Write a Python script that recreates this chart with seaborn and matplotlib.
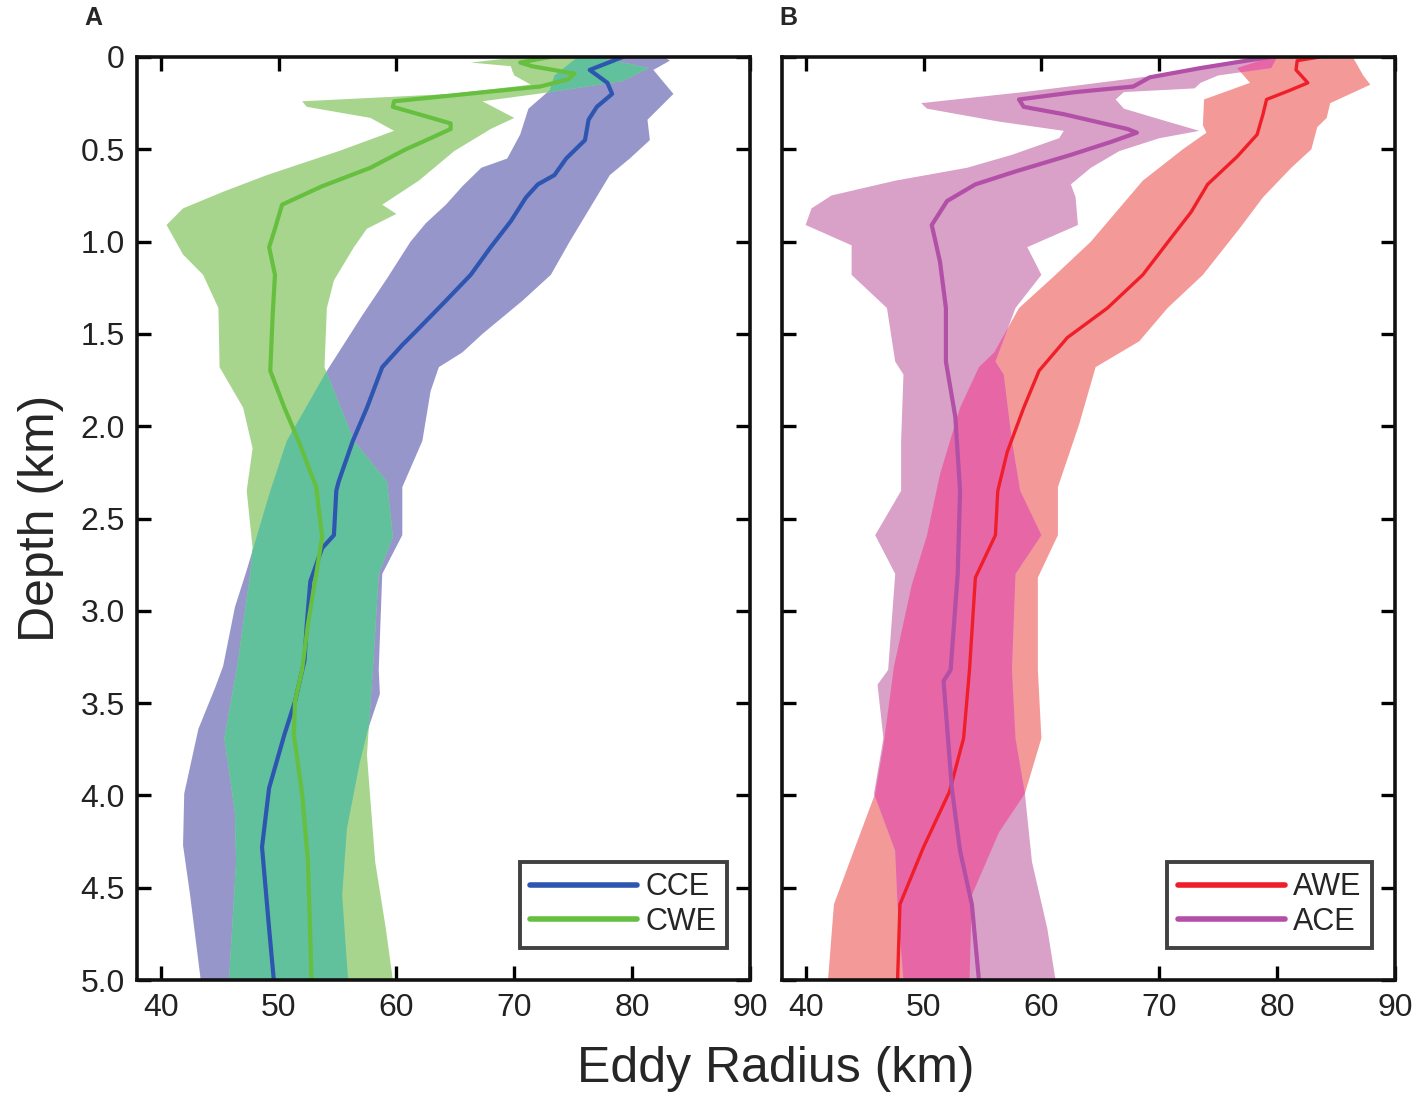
import numpy as np
import matplotlib
matplotlib.use("Agg")
import matplotlib.pyplot as plt
import seaborn as sns

# ---------------- data ----------------
# Panel A : CCE (blue) and CWE (green)
cce_depth = [0, 0.07, 0.14, 0.2, 0.27, 0.34, 0.45, 0.55, 0.64, 0.69, 0.76, 0.89,
             1.03, 1.18, 1.32, 1.47, 1.56, 1.68, 1.9, 2.08, 2.3, 2.35, 2.59, 2.66, 2.84, 3.07, 3.27,
             3.49, 3.67, 3.96, 4.28, 4.72, 5.0]
cce_mean = [79.2, 76.4, 77.9, 78.3, 77.0, 76.3, 76.0, 74.4, 73.4, 72.0, 71.0, 69.7,
            68.0, 66.3, 64.2, 61.9, 60.5, 58.8, 57.5, 56.3, 55.1, 54.9, 54.7, 53.7, 52.7, 52.4, 52.2,
            51.4, 50.5, 49.2, 48.6, 49.2, 49.6]
cce_lo_depth = [0, 0.1, 0.18, 0.28, 0.42, 0.55, 0.6, 0.7, 0.8, 0.9, 1.0, 1.2, 1.4, 1.6, 1.7,
                2.08, 2.35, 2.78, 2.98, 3.3, 3.42, 3.64, 3.99, 4.27, 4.54, 5.0]
cce_lo = [75.4, 73.4, 73.0, 71.2, 70.5, 69.4, 67.2, 65.6, 64.2, 62.5, 61.2, 59.2, 57.1, 55.1, 54.1,
          50.7, 49.3, 47.3, 46.3, 45.3, 44.6, 43.2, 42.0, 41.9, 42.5, 43.4]
cce_hi_depth = [0, 0.02, 0.07, 0.2, 0.34, 0.45, 0.55, 0.64, 0.82, 1.0, 1.18, 1.32, 1.5, 1.6,
                1.68, 1.81, 2.08, 2.33, 2.59, 2.8, 3.32, 3.45, 3.64, 3.82, 4.18, 4.54, 5.0]
cce_hi = [82.7, 83.2, 81.8, 83.5, 81.3, 81.5, 79.8, 78.1, 76.4, 74.7, 73.1, 70.7, 67.3, 65.6,
          63.6, 62.9, 62.2, 60.5, 60.5, 58.8, 58.5, 58.6, 57.6, 56.9, 55.8, 55.4, 55.9]

cwe_depth = [0, 0.03, 0.05, 0.09, 0.12, 0.16, 0.2, 0.24, 0.27, 0.31, 0.36, 0.39, 0.44, 0.5, 0.6, 0.7, 0.8,
             0.93, 1.03, 1.18, 1.4, 1.7, 1.9, 2.08, 2.33, 2.6, 2.8, 3.07, 3.32, 3.49, 3.67, 3.99, 4.36, 5.0]
cwe_mean = [73.0, 70.5, 71.5, 75.1, 74.6, 72.2, 66.0, 59.8, 59.7, 61.9, 64.6, 64.6, 62.9, 60.8, 57.8, 53.7, 50.3,
            49.7, 49.2, 49.7, 49.5, 49.3, 50.5, 51.7, 53.2, 53.7, 53.2, 52.5, 52.0, 51.4, 51.3, 52.0, 52.5, 52.8]
cwe_lo_depth = [0, 0.03, 0.05, 0.1, 0.15, 0.2, 0.24, 0.27, 0.33, 0.4, 0.51, 0.64, 0.73, 0.82, 0.91,
                1.07, 1.18, 1.36, 1.68, 1.9, 2.12, 2.35, 2.66, 2.8, 3.3, 3.69, 4.09, 4.36, 5.0]
cwe_lo = [70.5, 66.3, 69.7, 70.0, 71.4, 64.6, 52.0, 52.4, 57.8, 59.8, 55.1, 49.0, 45.3, 41.9, 40.5,
          41.9, 43.6, 44.9, 45.0, 47.0, 47.8, 47.3, 47.8, 47.6, 46.5, 45.4, 46.3, 46.4, 45.8]
cwe_hi_depth = [0, 0.06, 0.13, 0.19, 0.24, 0.33, 0.39, 0.51, 0.67, 0.8, 0.85, 0.93, 1.03, 1.21, 1.36,
                1.68, 2.08, 2.3, 2.6, 2.8, 3.32, 3.78, 4.36, 4.72, 5.0]
cwe_hi = [77.0, 81.4, 79.2, 73.1, 67.3, 70.0, 68.0, 64.9, 61.9, 58.8, 60.0, 57.5, 56.4, 54.7, 54.1,
          53.9, 56.4, 59.2, 59.7, 58.5, 58.0, 57.5, 58.2, 59.1, 59.7]

# Panel B : AWE (red) and ACE (purple)
awe_depth = [0, 0.02, 0.07, 0.14, 0.18, 0.23, 0.31, 0.42, 0.54, 0.6, 0.69, 0.84, 0.98, 1.18,
             1.36, 1.52, 1.7, 1.9, 2.14, 2.35, 2.59, 2.82, 3.32, 3.69, 3.98, 4.28, 4.59, 5.0]
awe_mean = [83.6, 81.7, 81.6, 82.6, 81.1, 79.1, 78.8, 78.3, 76.6, 75.6, 74.1, 72.7, 71.0, 68.6,
            65.6, 62.2, 59.8, 58.5, 57.1, 56.3, 56.1, 54.4, 53.9, 53.4, 52.2, 50.0, 48.0, 47.8]
awe_lo_depth = [0, 0.06, 0.14, 0.23, 0.37, 0.41, 0.5, 0.67, 0.82, 1.0, 1.18, 1.36, 1.6, 1.68,
                1.9, 2.26, 2.59, 2.86, 3.3, 3.73, 3.99, 4.28, 4.59, 5.0]
awe_lo = [79.5, 76.6, 77.7, 73.8, 73.7, 74.0, 72.0, 68.6, 66.6, 64.2, 61.2, 58.1, 56.0, 54.7,
          53.1, 51.4, 50.3, 49.0, 47.5, 46.6, 45.9, 44.2, 42.4, 41.9]
awe_hi_depth = [0, 0.01, 0.1, 0.15, 0.25, 0.33, 0.38, 0.5, 0.6, 0.76, 0.93, 1.18, 1.36, 1.54,
                1.68, 1.99, 2.33, 2.59, 2.82, 3.32, 3.69, 3.99, 4.2, 4.54, 5.0]
awe_hi = [86.3, 86.5, 87.3, 87.9, 84.5, 84.2, 83.4, 82.9, 81.2, 78.8, 76.8, 73.7, 70.7, 68.3,
          64.6, 63.2, 61.4, 61.4, 59.7, 59.7, 60.0, 58.6, 56.4, 54.1, 53.9]

ace_depth = [0, 0.03, 0.06, 0.11, 0.16, 0.19, 0.23, 0.27, 0.31, 0.39, 0.41, 0.46, 0.53, 0.62, 0.69,
             0.78, 0.91, 1.11, 1.36, 1.65, 1.95, 2.35, 2.8, 3.32, 3.38, 3.96, 4.3, 4.59, 5.0]
ace_mean = [79.4, 76.4, 73.5, 69.2, 67.8, 62.9, 58.1, 58.5, 61.9, 67.3, 68.1, 65.9, 62.5, 57.8, 54.4,
            52.0, 50.7, 51.4, 51.9, 51.9, 52.7, 53.1, 52.9, 52.3, 51.7, 52.4, 53.1, 54.1, 54.7]
ace_lo_depth = [0, 0.03, 0.1, 0.15, 0.19, 0.25, 0.28, 0.35, 0.4, 0.44, 0.53, 0.6, 0.67, 0.75, 0.82,
                0.91, 1.02, 1.18, 1.36, 1.65, 1.72, 2.08, 2.35, 2.59, 2.8, 3.32, 3.4, 3.69, 3.99, 4.3, 4.6, 5.0]
ace_lo = [79.0, 76.1, 69.7, 63.6, 58.5, 49.8, 50.3, 56.4, 61.9, 61.5, 57.5, 53.7, 47.6, 42.2, 40.5,
          40.0, 43.9, 43.9, 46.9, 47.6, 48.3, 48.1, 48.1, 45.9, 47.6, 47.0, 46.1, 46.6, 45.8, 47.6, 47.8, 48.3]
ace_hi_depth = [0, 0.06, 0.1, 0.14, 0.17, 0.19, 0.23, 0.28, 0.35, 0.4, 0.44, 0.51, 0.6, 0.69, 0.76,
                0.91, 1.03, 1.18, 1.36, 1.65, 1.72, 2.08, 2.35, 2.59, 2.8, 3.32, 3.69, 3.99, 4.36, 4.72, 5.0]
ace_hi = [80.0, 79.5, 75.0, 73.5, 73.0, 67.0, 66.3, 67.0, 70.7, 73.4, 70.0, 66.6, 64.2, 62.5, 62.9,
          63.1, 58.8, 60.0, 57.8, 56.1, 56.8, 57.5, 58.2, 60.0, 57.8, 57.5, 57.8, 58.6, 59.2, 60.5, 61.2]

x_ticks = [40, 50, 60, 70, 80, 90]
y_ticks = [0, 0.5, 1.0, 1.5, 2.0, 2.5, 3.0, 3.5, 4.0, 4.5, 5.0]
y_ticklabels = ["0", "0.5", "1.0", "1.5", "2.0", "2.5", "3.0", "3.5", "4.0", "4.5", "5.0"]

# ---------------- style ----------------
sns.set_theme(style="ticks")
plt.rcParams["font.family"] = ["Liberation Sans", "DejaVu Sans"]

fig = plt.figure(figsize=(14.16, 10.96), dpi=100)
axA = fig.add_axes([0.0968, 0.1058, 0.4329, 0.8422])
axB = fig.add_axes([0.5523, 0.1058, 0.4329, 0.8422])


def band(ax, dlo, lo, dhi, hi, color):
    xs = np.r_[np.asarray(lo), np.asarray(hi)[::-1]]
    ys = np.r_[np.asarray(dlo), np.asarray(dhi)[::-1]]
    ax.fill(xs, ys, color=color, lw=0, zorder=1)


def overlap(ax, b1, b2, color):
    grid = np.linspace(0, 5, 2001)
    lo = np.maximum(np.interp(grid, b1[0], b1[1]), np.interp(grid, b2[0], b2[1]))
    hi = np.minimum(np.interp(grid, b1[2], b1[3]), np.interp(grid, b2[2], b2[3]))
    ax.fill_betweenx(grid, lo, hi, where=lo < hi, interpolate=True, color=color, lw=0, zorder=2)


def mean_line(ax, depth, vals, color, lw, label):
    sns.lineplot(x=vals, y=depth, orient="y", sort=False, estimator=None,
                 color=color, lw=lw, ax=ax, label=label, zorder=4)


# Panel A
bA1 = (cce_lo_depth, cce_lo, cce_hi_depth, cce_hi)
bA2 = (cwe_lo_depth, cwe_lo, cwe_hi_depth, cwe_hi)
band(axA, *bA1, color="#9796cb")
band(axA, *bA2, color="#a8d58e")
overlap(axA, bA1, bA2, "#60c19c")
mean_line(axA, cce_depth, cce_mean, "#2e56b0", 3.0, "CCE")
mean_line(axA, cwe_depth, cwe_mean, "#66bf3f", 3.0, "CWE")

# Panel B
bB1 = (awe_lo_depth, awe_lo, awe_hi_depth, awe_hi)
bB2 = (ace_lo_depth, ace_lo, ace_hi_depth, ace_hi)
band(axB, *bB1, color="#f39997")
band(axB, *bB2, color="#d9a0c8")
overlap(axB, bB1, bB2, "#e766a6")
mean_line(axB, awe_depth, awe_mean, "#f01e28", 2.4, "AWE")
mean_line(axB, ace_depth, ace_mean, "#b24fa6", 3.0, "ACE")

for ax in (axA, axB):
    ax.set_xlim(38, 90)
    ax.set_ylim(5.0, 0)
    ax.set_xticks(x_ticks)
    ax.set_xticklabels([str(t) for t in x_ticks])
    ax.set_yticks(y_ticks)
    ax.set_xlabel("")
    ax.set_ylabel("")
    ax.tick_params(direction="in", top=True, right=True, length=10, width=2.4,
                   labelsize=23, pad=9, colors="#000000", labelcolor="#222222")
    for s in ax.spines.values():
        s.set_linewidth(2.6)
        s.set_color("#111111")
        s.set_visible(True)
        s.set_zorder(6)
    leg = ax.legend(loc="lower right", fontsize=22, handlelength=3.5, frameon=True,
                    fancybox=False, borderpad=0.35, labelspacing=0.15, handletextpad=0.25,
                    borderaxespad=0, bbox_to_anchor=(0.962, 0.035))
    leg.get_frame().set_edgecolor("#111111")
    leg.get_frame().set_linewidth(2.8)
    for line in leg.get_lines():
        line.set_linewidth(4)

axA.set_yticklabels(y_ticklabels)
axB.set_yticklabels([])
axA.set_ylabel("Depth (km)", fontsize=36, labelpad=12)

fig.text(0.548, 0.025, "Eddy Radius (km)", fontsize=36, ha="center", va="center")
fig.text(0.066, 0.984, "A", fontsize=18, fontweight="bold", ha="center", va="center")
fig.text(0.557, 0.984, "B", fontsize=18, fontweight="bold", ha="center", va="center")

fig.savefig("out.png", dpi=100)
